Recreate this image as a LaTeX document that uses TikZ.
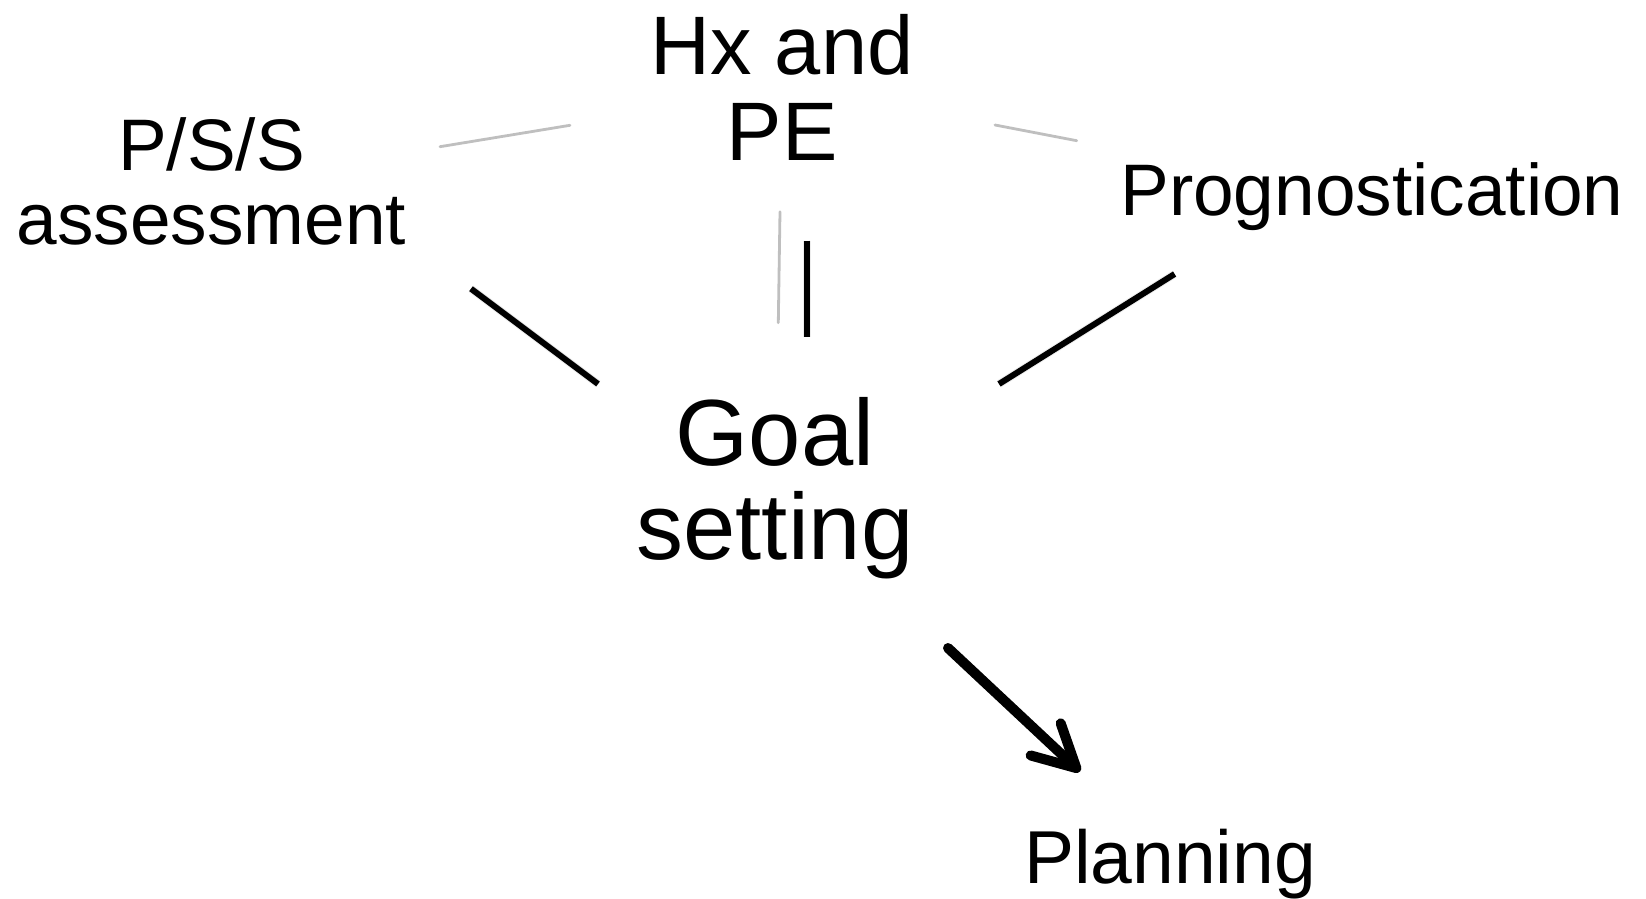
\documentclass[tikz,border=0pt]{standalone}
\usepackage{fontspec}
\setmainfont{Liberation Sans}
\usetikzlibrary{arrows.meta}
\begin{document}
\begin{tikzpicture}[x=0.5pt,y=-0.5pt,
  lbl/.style={inner sep=0pt, outer sep=0pt, anchor=base, align=center, text=black},
  thin link/.style={draw=black!25, line width=1.4pt, line cap=round},
  thick link/.style={draw=black, line width=3pt},
  thick shade/.style={draw=black!7, line width=4pt, xshift=1.2pt, yshift=-2pt},
  flow/.style={draw=black, line width=5pt, line cap=round,
    -{Straight Barb[length=21pt, width=22pt, line cap=round, line join=round]}},
  flow shade/.style={flow, draw=black!7, xshift=1.2pt, yshift=-2pt}]
\useasboundingbox (0,0) rectangle (1646,899);
% labels
\node[lbl, font=\fontsize{41.5pt}{43.5pt}\selectfont] (hx) at (782,161) {Hx and\\PE};
\node[lbl, font=\fontsize{36.5pt}{37.25pt}\selectfont] (pss) at (211.5,244.6) {P/S/S\\assessment};
\node[lbl, font=\fontsize{36.5pt}{37.25pt}\selectfont] (prog) at (1372,215) {Prognostication};
\node[lbl, font=\fontsize{47pt}{47.25pt}\selectfont] (goal) at (775,559.5) {Goal\\setting};
\node[lbl, font=\fontsize{37.5pt}{40pt}\selectfont] (plan) at (1170,883) {Planning};
% connector end points
\coordinate (a1) at (440,146.7); \coordinate (a2) at (570,125.3);
\coordinate (b1) at (780,211.7); \coordinate (b2) at (778.3,322.7);
\coordinate (c1) at (995,125);   \coordinate (c2) at (1076.7,140.7);
\coordinate (d1) at (471,288.7); \coordinate (d2) at (598,384);
\coordinate (e1) at (806.7,240.7); \coordinate (e2) at (806.7,336.7);
\coordinate (f1) at (1174.6,274); \coordinate (f2) at (999,384);
\coordinate (g1) at (948,648);   \coordinate (g2) at (1080,771.5);
\draw[thin link] (a1) -- (a2);
\draw[thin link] (b1) -- (b2);
\draw[thin link] (c1) -- (c2);
\draw[thick shade] (d1) -- (d2);
\draw[thick shade] (e1) -- (e2);
\draw[thick shade] (f1) -- (f2);
\draw[flow shade] (g1) -- (g2);
\draw[thick link] (d1) -- (d2);
\draw[thick link] (e1) -- (e2);
\draw[thick link] (f1) -- (f2);
\draw[flow] (g1) -- (g2);
\end{tikzpicture}
\end{document}
